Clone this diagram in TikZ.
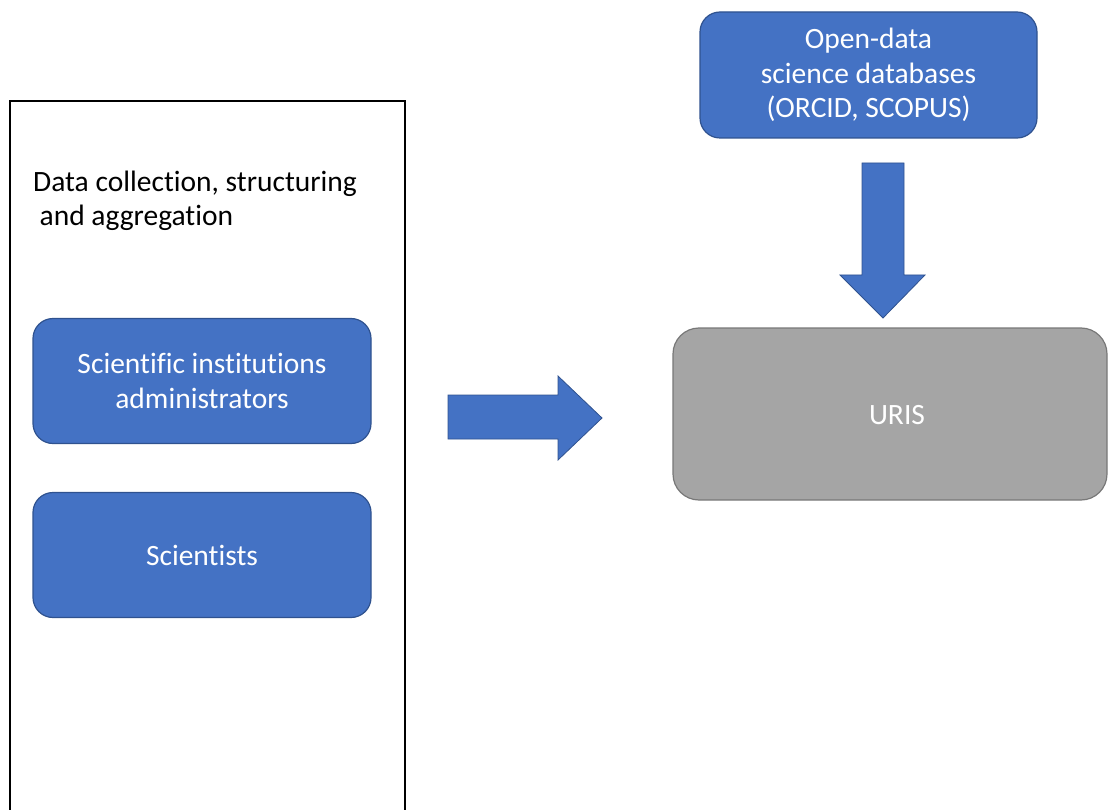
\documentclass[tikz,border=0pt]{standalone}
\usepackage{fontspec}
\setmainfont{Carlito}[Ligatures=NoCommon]
\definecolor{boxblue}{HTML}{4472C4}
\definecolor{edgeblue}{HTML}{2F528F}
\definecolor{boxgray}{HTML}{A5A5A5}
\definecolor{edgegray}{HTML}{787878}
\tikzset{
  bluebox/.style={draw=edgeblue, fill=boxblue, line width=1.2pt, rounded corners=20pt,
    text=white, align=center, font=\fontsize{29.5}{34.5}\selectfont},
  graybox/.style={draw=edgegray, fill=boxgray, line width=1.2pt, rounded corners=26pt,
    text=white, align=center, font=\fontsize{29.5}{34.5}\selectfont},
  blockarrow/.style={draw=edgeblue, fill=boxblue, line width=0.8pt}
}
\begin{document}
\begin{tikzpicture}[x=1pt, y=-1pt]
    \useasboundingbox (0,0) rectangle (1108,810);
    \clip (0,0) rectangle (1108,810);
    % Frame on the left, open at the bottom
    \draw[line width=1.2pt] (10,830) -- (10,101) -- (405,101) -- (405,830);
    \node[anchor=north west, align=left, inner sep=0pt, font=\fontsize{29.5}{34}\selectfont]
        (title) at (33,171) {Data collection, structuring\\\hspace{0.22em}and aggregation};
    % Boxes
    \node[bluebox, minimum width=338pt, minimum height=125pt] (admins) at (202,381)
        {Scientific institutions\\administrators};
    \node[bluebox, minimum width=338pt, minimum height=125pt] (scientists) at (202,555)
        {Scientists};
    \node[bluebox, minimum width=337pt, minimum height=126pt] (opendata) at (868.5,75)
        {Open-data\\science databases\\(ORCID, SCOPUS)};
    \node[graybox, minimum width=434pt, minimum height=172pt] (uris) at (890,414) {};
    \node[text=white, font=\fontsize{29.5}{34.5}\selectfont] (uristext) at (897,415) {URIS};
    % Block arrows
    \draw[blockarrow] (448,395) -- (558,395) -- (558,376) -- (602,418)
        -- (558,460) -- (558,439) -- (448,439) -- cycle;
    \draw[blockarrow] (862,163) -- (904,163) -- (904,275) -- (925,275) -- (883,318)
        -- (840,275) -- (862,275) -- cycle;
\end{tikzpicture}
\end{document}
